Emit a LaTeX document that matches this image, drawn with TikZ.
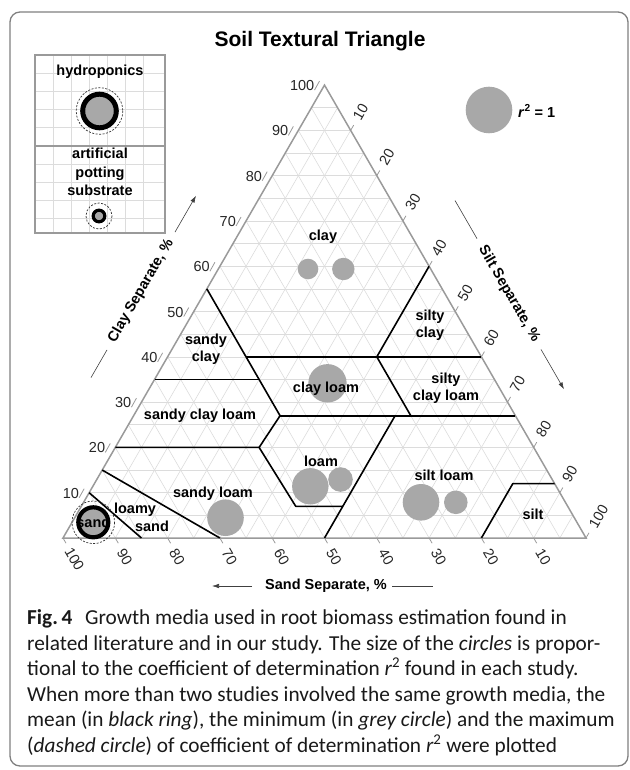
\documentclass[tikz,border=0pt]{standalone}
\usepackage{fontspec}
\setmainfont{Liberation Sans}
\newfontfamily\capfont{Carlito}
\usetikzlibrary{arrows.meta}
\definecolor{gridc}{HTML}{DCDCDC}
\definecolor{edgec}{HTML}{9A9A9A}
\definecolor{dotc}{HTML}{A8A8A8}
\definecolor{framec}{HTML}{808080}
\begin{document}
\begin{tikzpicture}[x=1pt,y=-1pt,
  lbl/.style={font=\fontsize{14.5}{17}\selectfont\bfseries, inner sep=0pt, anchor=base},
  num/.style={font=\fontsize{14.5}{17}\selectfont, text=black!85, inner sep=0pt},
  axlbl/.style={font=\fontsize{14.5}{17}\selectfont\bfseries, inner sep=0pt},
  dot/.style={fill=dotc, draw=none},
  bnd/.style={line width=1.6pt, black, line join=round},
  tickmark/.style={edgec, line width=0.8pt},
  gridline/.style={gridc, line width=0.6pt},
  axline/.style={line width=0.6pt, black!75},
  axarrow/.style={line width=0.6pt, black!75, -{Latex[length=7pt,width=4.5pt]}},
  ring/.style={draw=black},
  dashring/.style={draw=black!80, line width=0.7pt, dash pattern=on 2pt off 1.5pt},
  capline/.style={font=\capfont\fontsize{21.3}{25}\selectfont, text=black!90, inner sep=0pt, anchor=base west}]
\useasboundingbox (0,0) rectangle (629,770);
% frame
\draw[framec, line width=1.3pt, rounded corners=10pt] (10,12) rectangle (628,766);
% title
\node[font=\fontsize{21}{24}\selectfont\bfseries, anchor=base] (title) at (320,46.5) {Soil Textural Triangle};

% ---------- triangle ----------
\begin{scope}[shift={(63pt,-538pt)}, x={(5.23pt,0pt)}, y={(2.615pt,4.529pt)}]
  \foreach \k in {5,10,...,95} {
    \draw[gridline] (0,\k) -- ({100-\k},\k);
    \draw[gridline] (\k,0) -- (\k,{100-\k});
    \draw[gridline] (0,{100-\k}) -- ({100-\k},0);
  }
  \draw[edgec, line width=1.5pt, line join=miter] (0,0) -- (100,0) -- (0,100) -- cycle;
  % class boundaries (silt, clay)
  \draw[bnd] (0,10) -- (15,0);
  \draw[bnd] (0,15) -- (30,0);
  \draw[bnd] (0,20) -- (27.5,20) -- (41,7) -- (50,7);
  \draw[bnd] (27.5,20) -- (28,27);
  \draw[bnd] (28,27) -- (73,27);
  \draw[bnd] (50,0) -- (50,27);
  \draw[bnd] (80,0) -- (80,12) -- (88,12);
  \draw[bnd] (53,27) -- (40,40);
  \draw[bnd] (15,40) -- (60,40);
  \draw[bnd] (40,40) -- (40,60);
  \draw[bnd] (0,35) -- (20,35);
  \draw[bnd] (0,55) -- (28,27);
  % clay ticks (left)
  \foreach \c in {10,20,...,100} {
    \draw[tickmark] ([xshift=-5pt,yshift=4pt]0,\c) -- ([xshift=-10pt,yshift=-5pt]0,\c);
    \node[num, anchor=east] at ([xshift=-10pt,yshift=-0.5pt]0,\c) {\c};
  }
  % silt ticks (right)
  \foreach \t in {10,20,...,90} {
    \draw[tickmark] (\t,{100-\t}) -- ([xshift=3pt,yshift=5.2pt]\t,{100-\t});
    \node[num, rotate=60] at ([xshift=10pt,yshift=18.5pt]\t,{100-\t}) {\t};
  }
  \draw[tickmark] (100,0) -- ([xshift=3pt,yshift=5.2pt]100,0);
  \node[num, rotate=60] at ([xshift=12.5pt,yshift=21.5pt]100,0) {100};
  % sand ticks (bottom)
  \foreach \s in {10,20,...,90} {
    \draw[tickmark] ({100-\s},0) -- ([xshift=3pt,yshift=-5.2pt]{100-\s},0);
    \node[num, rotate=-60] at ([xshift=9.5pt,yshift=-18.5pt]{100-\s},0) {\s};
  }
  \draw[tickmark] (0,0) -- ([xshift=3pt,yshift=-5.2pt]0,0);
  \node[num, rotate=-60] at ([xshift=11.5pt,yshift=-21pt]0,0) {100};
\end{scope}

% ---------- data circles ----------
\fill[dot] (308,269) circle (10.3);
\fill[dot] (343.3,269) circle (11.2);
\fill[dot] (327.5,383.3) circle (19.2);
\fill[dot] (310.3,486.3) circle (18.2);
\fill[dot] (340.5,479.5) circle (12.3);
\fill[dot] (225.5,517.7) circle (18.3);
\fill[dot] (421,502.3) circle (18.3);
\fill[dot] (455.8,502.3) circle (11.8);
% sand (ring)
\draw[dashring] (93.3,522.3) circle (21.3);
\fill[dot] (93.3,522.3) circle (13.5);
\draw[ring, line width=4.2pt] (93.3,522.3) circle (15);

% ---------- class labels ----------
\node[lbl] (lclay) at (323,240) {clay};
\node[lbl] (lsiltyclay1) at (430,320) {silty};
\node[lbl] (lsiltyclay2) at (430,337) {clay};
\node[lbl] (lsandyclay1) at (206,344) {sandy};
\node[lbl] (lsandyclay2) at (206,361) {clay};
\node[lbl] (lclayloam) at (326,392) {clay loam};
\node[lbl] (lscl1) at (446,383) {silty};
\node[lbl] (lscl2) at (446,400) {clay loam};
\node[lbl] (lsandyclayloam) at (200,419) {sandy clay loam};
\node[lbl] (lloam) at (321,466) {loam};
\node[lbl] (lsiltloam) at (444,480) {silt loam};
\node[lbl] (lsilt) at (533,519) {silt};
\node[lbl] (lsandyloam) at (213,497) {sandy loam};
\node[lbl] (lloamysand1) at (135,513) {loamy};
\node[lbl] (lloamysand2) at (152,531) {sand};
\node[lbl] (lsand) at (93.3,527.5) {sand};

% ---------- axis titles ----------
\node[axlbl, rotate=60] (claylbl) at (141,291) {Clay Separate, \%};
\coordinate (ca1) at (91,377.6);
\coordinate (ca2) at (107,349.9);
\coordinate (ca3) at (175,232.1);
\coordinate (ca4) at (196,195.7);
\draw[axline] (ca1) -- (ca2);
\draw[axarrow] (ca3) -- (ca4);

\node[axlbl, rotate=-60] (siltlbl) at (509,294) {Silt Separate, \%};
\coordinate (sa1) at (455,200.5);
\coordinate (sa2) at (477,238.6);
\coordinate (sa3) at (541,349.4);
\coordinate (sa4) at (564,389.3);
\draw[axline] (sa1) -- (sa2);
\draw[axarrow] (sa3) -- (sa4);

\node[axlbl] (sandlbl) at (326,586) {Sand Separate, \%};
\coordinate (da1) at (252,586);
\coordinate (da2) at (212,586);
\coordinate (da3) at (392,586);
\coordinate (da4) at (433,586);
\draw[axarrow] (da1) -- (da2);
\draw[axline] (da3) -- (da4);

% ---------- r^2 legend ----------
\fill[dot] (489,110) circle (23.3);
\node[font=\fontsize{14.5}{17}\selectfont\bfseries, anchor=west, inner sep=0pt] (rlbl) at (518,111) {\textit{r}\textsuperscript{2} = 1};

% ---------- media legend ----------
\foreach \xx in {53,71,89,107,125,143} \draw[gridline] (\xx,55) -- (\xx,233);
\foreach \yy in {73,91,109,127,164,182,200,218} \draw[gridline] (35,\yy) -- (165,\yy);
\draw[edgec, line width=1.4pt] (35,55) rectangle (165,233);
\draw[edgec, line width=1.4pt] (35,146) -- (165,146);
\node[lbl] (hydro) at (100,76) {hydroponics};
\draw[dashring] (99.5,111) circle (23.3);
\fill[dot] (99.5,111) circle (14.5);
\draw[ring, line width=5pt] (99.5,111) circle (16.8);
\node[lbl] (art1) at (100,159) {artificial};
\node[lbl] (art2) at (100,177) {potting};
\node[lbl] (art3) at (100,195) {substrate};
\draw[dashring] (99,216) circle (13);
\fill[dot] (99,216) circle (5);
\draw[ring, line width=3.2pt] (99,216) circle (5.8);

% ---------- caption ----------
\node[capline] (cap1) at (27,624.5) {\textbf{Fig.\,4}\hspace{0.6em}Growth media used in root biomass estimation found in};
\node[capline] (cap2) at (27,650) {related literature and in our study. The size of the \textit{circles} is propor-};
\node[capline] (cap3) at (27,675.5) {tional to the coefficient of determination \textit{r}\textsuperscript{2} found in each study.};
\node[capline] (cap4) at (27,701) {When more than two studies involved the same growth media, the};
\node[capline] (cap5) at (27,726.5) {mean (in \textit{black ring}), the minimum (in \textit{grey circle}) and the maximum};
\node[capline] (cap6) at (27,752) {(\textit{dashed circle}) of coefficient of determination \textit{r}\textsuperscript{2} were plotted};
\end{tikzpicture}
\end{document}
